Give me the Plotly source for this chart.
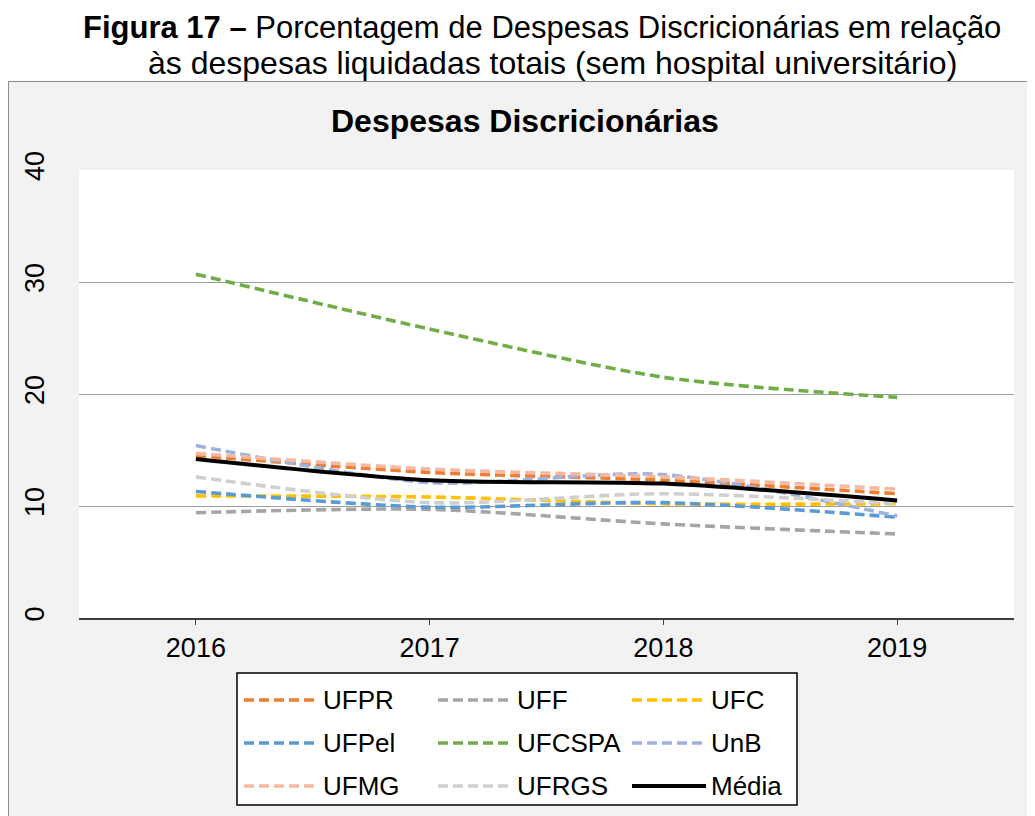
import plotly.graph_objects as go

years = ["2016", "2017", "2018", "2019"]
series_names = ["UFPR", "UFF", "UFC", "UFPel", "UFCSPA", "UnB", "UFMG", "UFRGS", "Média"]
UFPR = [14.5, 13.0, 12.3, 11.1]
UFF = [9.4, 9.7, 8.4, 7.5]
UFC = [10.9, 10.8, 10.2, 10.2]
UFPel = [11.3, 9.9, 10.3, 9.0]
UFCSPA = [30.7, 25.8, 21.5, 19.7]
UnB = [15.4, 12.1, 12.8, 9.1]
UFMG = [14.7, 13.3, 12.6, 11.5]
UFRGS = [12.6, 10.3, 11.1, 10.2]
Media = [14.2, 12.3, 12.0, 10.5]
series_values = [UFPR, UFF, UFC, UFPel, UFCSPA, UnB, UFMG, UFRGS, Media]
colors = ["#ED7D31", "#A5A5A5", "#FFC000", "#5B9BD5", "#70AD47",
          "#9FB1DD", "#F4B9A0", "#CFCFCF", "#000000"]
dashes = ["10px,5px"] * 8 + ["solid"]
widths = [3.6] * 8 + [4.0]

FONT = "Arial, 'Liberation Sans', sans-serif"
OFF = 8  # page body margin
W, H = 1035 - OFF, 816 - OFF
L, R, T, B = 79 - OFF, 21, 170 - OFF, 198
PW, PH = W - L - R, H - T - B


def px(xp):
    return (xp - OFF - L) / PW


def py(yp):
    return (H - B - (yp - OFF)) / PH


fig = go.Figure()
for name, vals, col, dsh, wd in zip(series_names, series_values, colors, dashes, widths):
    fig.add_trace(go.Scatter(
        x=years, y=vals, name=name, mode="lines",
        line=dict(color=col, width=wd, dash=dsh, shape="spline", smoothing=0.8),
        showlegend=False,
    ))

shapes = [
    dict(type="rect", xref="paper", yref="paper", x0=px(8.5), x1=px(1050), y0=py(81.5), y1=py(840),
         fillcolor="#F2F2F2", line=dict(color="#8C8C8C", width=1), layer="below"),
    dict(type="rect", xref="paper", yref="paper", x0=0, x1=1, y0=0, y1=1,
         fillcolor="#FFFFFF", line=dict(width=0), layer="below"),
    dict(type="rect", xref="paper", yref="paper", x0=px(237), x1=px(797), y0=py(673), y1=py(805),
         fillcolor="#FFFFFF", line=dict(color="#000000", width=1.5), layer="above"),
]
annotations = []
col_x = [244, 438, 632]
row_y = [700, 743, 786]
for i, (name, col, dsh, wd) in enumerate(zip(series_names, colors, dashes, widths)):
    cx = col_x[i % 3]
    ry = row_y[i // 3]
    shapes.append(dict(type="line", xref="paper", yref="paper", x0=px(cx), x1=px(cx + 74),
                       y0=py(ry), y1=py(ry), line=dict(color=col, width=wd, dash=dsh), layer="above"))
    annotations.append(dict(xref="paper", yref="paper", x=px(cx + 77), y=py(ry), text=name,
                            showarrow=False, xanchor="left", yanchor="middle",
                            font=dict(family=FONT, size=26, color="#000000")))

annotations += [
    dict(xref="paper", yref="paper", x=px(542), y=py(27),
         text="<b>Figura 17 –</b> Porcentagem de Despesas Discricionárias em relação",
         showarrow=False, xanchor="center", yanchor="middle",
         font=dict(family=FONT, size=31, color="#000000")),
    dict(xref="paper", yref="paper", x=px(552), y=py(63),
         text="às despesas liquidadas totais (sem hospital universitário)",
         showarrow=False, xanchor="center", yanchor="middle",
         font=dict(family=FONT, size=32, color="#000000")),
    dict(xref="paper", yref="paper", x=px(525), y=py(121),
         text="<b>Despesas Discricionárias</b>",
         showarrow=False, xanchor="center", yanchor="middle",
         font=dict(family=FONT, size=32, color="#000000")),
]

fig.update_layout(
    width=W, height=H,
    margin=dict(l=L, r=R, t=T, b=B, pad=0),
    paper_bgcolor="#FFFFFF", plot_bgcolor="#FFFFFF",
    font=dict(family=FONT, size=27, color="#000000"),
    shapes=shapes, annotations=annotations,
    showlegend=False,
    xaxis=dict(type="category", range=[-0.5, 3.5], showgrid=False, showline=True,
               linecolor="#404040", linewidth=1.5, ticks="outside", ticklen=5,
               tickcolor="#404040", tickwidth=1.3, tickfont=dict(size=27), zeroline=False),
    yaxis=dict(range=[0, 40], dtick=10, showgrid=True, gridcolor="#9E9E9E", gridwidth=1.3,
               zeroline=False, showline=False, ticks="", tickangle=-90,
               tickfont=dict(size=27), ticklabelstandoff=29),
)

fig.write_html("out.html")
